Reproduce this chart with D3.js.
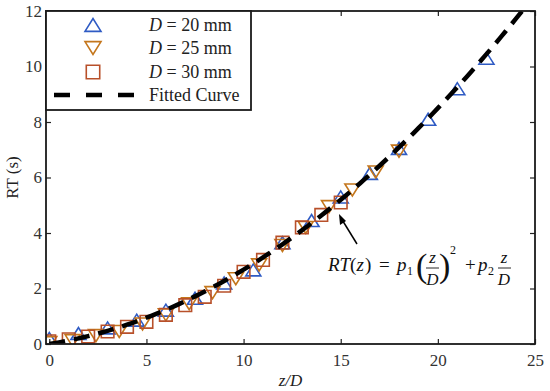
<!DOCTYPE html>
<html>
<head>
<meta charset="utf-8">
<script src="https://cdn.jsdelivr.net/npm/d3@7"></script>
<style>
  html, body { margin: 0; padding: 0; background: #fff; }
  svg text { font-family: "Liberation Serif", "Times New Roman", serif; }
</style>
</head>
<body>
<svg id="chart" width="550" height="391"></svg>
<script>
// ─── Data ───
const xD20 = [0, 1.5, 3, 4.5, 6, 7.5, 9, 10.5, 12, 13.5, 15, 16.5, 18, 19.5, 21, 22.5];
const yD20 = [0.2, 0.38, 0.58, 0.86, 1.22, 1.65, 2.2, 2.67, 3.65, 4.45, 5.3, 6.15, 7.05, 8.1, 9.2, 10.3];

const xD25 = [0, 1.2, 2.4, 3.6, 4.8, 6, 7.2, 8.4, 9.6, 10.8, 12, 13.2, 14.4, 15.6, 16.8, 18];
const yD25 = [0.05, 0.12, 0.3, 0.45, 0.72, 1.05, 1.45, 1.85, 2.35, 2.85, 3.55, 4.2, 4.95, 5.55, 6.2, 6.95];

const xD30 = [0, 1, 2, 3, 4, 5, 6, 7, 8, 9, 10, 11, 12, 13, 14, 15];
const yD30 = [0.1, 0.17, 0.27, 0.45, 0.62, 0.8, 1.05, 1.4, 1.7, 2.1, 2.6, 3.03, 3.65, 4.2, 4.65, 5.1];

// fitted curve RT = p1 (z/D)^2 + p2 (z/D)
const p1 = 0.0157;
const p2 = 0.111;
const fitX = d3.range(0, 25.01, 0.25);

const xTicks = [0, 5, 10, 15, 20, 25];
const yTicks = [0, 2, 4, 6, 8, 10, 12];

const series = [
  { label: "D = 20 mm", shape: "up", color: "#2f5bc4", xs: xD20, ys: yD20 },
  { label: "D = 25 mm", shape: "down", color: "#c4761c", xs: xD25, ys: yD25 },
  { label: "D = 30 mm", shape: "square", color: "#b8502a", xs: xD30, ys: yD30 },
];

// ─── Layout ───
const L = 46, R = 535, T = 11, B = 344;
const svg = d3.select("#chart");

const x = d3.scaleLinear().domain([-0.17, 25]).range([L, R]);
const y = d3.scaleLinear().domain([0, 12]).range([B, T]);

svg.append("defs").append("clipPath").attr("id", "plotclip")
  .append("rect").attr("x", L).attr("y", T).attr("width", R - L).attr("height", B - T);

// marker path generator
function markerPath(shape, s) {
  const h = s * 0.8;
  if (shape === "up") return `M${-s / 2},${h / 2}L${s / 2},${h / 2}L0,${-h / 2}Z`;
  if (shape === "down") return `M${-s / 2},${-h / 2}L${s / 2},${-h / 2}L0,${h / 2}Z`;
  const q = s * 0.42;
  return `M${-q},${-q}H${q}V${q}H${-q}Z`;
}

// ─── Axes (ticks inward, mirrored on top/right) ───
const tickLen = 5;
const axisStyle = (g) => {
  g.select(".domain").remove();
  g.selectAll("line").attr("stroke", "#222").attr("stroke-width", 1.2);
  g.selectAll("text")
    .attr("fill", "#333")
    .attr("font-size", "17px")
    .style("font-family", '"Liberation Serif", "Times New Roman", serif');
};

svg.append("g")
  .attr("transform", `translate(0,${B})`)
  .call(d3.axisBottom(x).tickValues(xTicks).tickSize(-tickLen).tickPadding(10))
  .call(axisStyle);
svg.append("g")
  .attr("transform", `translate(0,${T})`)
  .call(d3.axisTop(x).tickValues(xTicks).tickSize(-tickLen).tickFormat(""))
  .call(axisStyle);
svg.append("g")
  .attr("transform", `translate(${L},0)`)
  .call(d3.axisLeft(y).tickValues(yTicks).tickSize(-tickLen).tickPadding(4))
  .call(axisStyle);
svg.append("g")
  .attr("transform", `translate(${R},0)`)
  .call(d3.axisRight(y).tickValues(yTicks).tickSize(-tickLen).tickFormat(""))
  .call(axisStyle);

// ─── Markers ───
const plot = svg.append("g").attr("clip-path", "url(#plotclip)");
series.forEach((s) => {
  plot.append("g")
    .selectAll("path")
    .data(s.xs.map((v, i) => [v, s.ys[i]]))
    .join("path")
    .attr("transform", (d) => `translate(${x(d[0])},${y(d[1])})`)
    .attr("d", markerPath(s.shape, 15))
    .attr("fill", "none")
    .attr("stroke", s.color)
    .attr("stroke-width", 1.6);
});

// ─── Fitted curve ───
plot.append("path")
  .datum(fitX)
  .attr("d", d3.line().x((d) => x(d)).y((d) => y(p1 * d * d + p2 * d)))
  .attr("fill", "none")
  .attr("stroke", "#000")
  .attr("stroke-width", 4.5)
  .attr("stroke-dasharray", "16,9");

// frame
svg.append("rect")
  .attr("x", L).attr("y", T).attr("width", R - L).attr("height", B - T)
  .attr("fill", "none").attr("stroke", "#1a1a1a").attr("stroke-width", 1.8);

// ─── Legend ───
const leg = svg.append("g");
leg.append("rect")
  .attr("x", L).attr("y", T).attr("width", 205).attr("height", 99)
  .attr("fill", "#fff").attr("stroke", "#1a1a1a").attr("stroke-width", 1.8);

const rowY = [25, 48, 72, 95];
series.forEach((s, i) => {
  leg.append("path")
    .attr("transform", `translate(93,${rowY[i]})`)
    .attr("d", markerPath(s.shape, 16))
    .attr("fill", "none")
    .attr("stroke", s.color)
    .attr("stroke-width", 1.6);
  const t = leg.append("text")
    .attr("x", 149).attr("y", rowY[i] + 6)
    .attr("font-size", "18px").attr("fill", "#222");
  t.append("tspan").attr("font-style", "italic").text("D");
  t.append("tspan").text(s.label.slice(1));
});
leg.append("line")
  .attr("x1", 54).attr("x2", 134).attr("y1", rowY[3]).attr("y2", rowY[3])
  .attr("stroke", "#000").attr("stroke-width", 4.5)
  .attr("stroke-dasharray", "16,16");
leg.append("text")
  .attr("x", 149).attr("y", rowY[3] + 6)
  .attr("font-size", "18px").attr("fill", "#222")
  .text("Fitted Curve");

// ─── Axis titles ───
svg.append("text")
  .attr("transform", `translate(18,${(T + B) / 2}) rotate(-90)`)
  .attr("text-anchor", "middle")
  .attr("font-size", "17px").attr("fill", "#222")
  .text("RT (s)");
svg.append("text")
  .attr("x", (L + R) / 2).attr("y", 386)
  .attr("text-anchor", "middle")
  .attr("font-size", "17px").attr("fill", "#222")
  .attr("font-style", "italic")
  .text("z/D");

// ─── Annotation ───
svg.append("line")
  .attr("x1", 357).attr("y1", 244).attr("x2", 341).attr("y2", 218)
  .attr("stroke", "#000").attr("stroke-width", 1.5);
svg.append("path")
  .attr("d", "M339,214 L340,225 L346,221 Z")
  .attr("fill", "#000");

const eq = svg.append("g").attr("transform", "translate(328,271)")
  .attr("fill", "#111");
const piece = (dx, dy, str, opts = {}) =>
  eq.append("text")
    .attr("x", dx).attr("y", dy)
    .attr("font-size", opts.size || "19px")
    .attr("font-style", opts.italic ? "italic" : "normal")
    .attr("text-anchor", opts.anchor || "start")
    .text(str);
piece(0, 0, "RT", { italic: true });
piece(22, 0, "(");
piece(28.5, 0, "z", { italic: true });
piece(37, 0, ")");
piece(51, 0, "=");
piece(69, 0, "p", { italic: true });
piece(79, 4, "1", { size: "12px" });
piece(88, 6, "(", { size: "34px" });
piece(104.5, -8, "z", { italic: true, anchor: "middle", size: "17px" });
piece(104.5, 14, "D", { italic: true, anchor: "middle", size: "17px" });
eq.append("line").attr("x1", 98).attr("x2", 111).attr("y1", -3).attr("y2", -3)
  .attr("stroke", "#111").attr("stroke-width", 0.9);
piece(111, 6, ")", { size: "34px" });
piece(122, -17, "2", { size: "12px" });
piece(137, 0, "+");
piece(150, 0, "p", { italic: true });
piece(160, 4, "2", { size: "12px" });
piece(176, -8, "z", { italic: true, anchor: "middle", size: "17px" });
piece(176, 14, "D", { italic: true, anchor: "middle", size: "17px" });
eq.append("line").attr("x1", 170).attr("x2", 183).attr("y1", -3).attr("y2", -3)
  .attr("stroke", "#111").attr("stroke-width", 0.9);
</script>
</body>
</html>
